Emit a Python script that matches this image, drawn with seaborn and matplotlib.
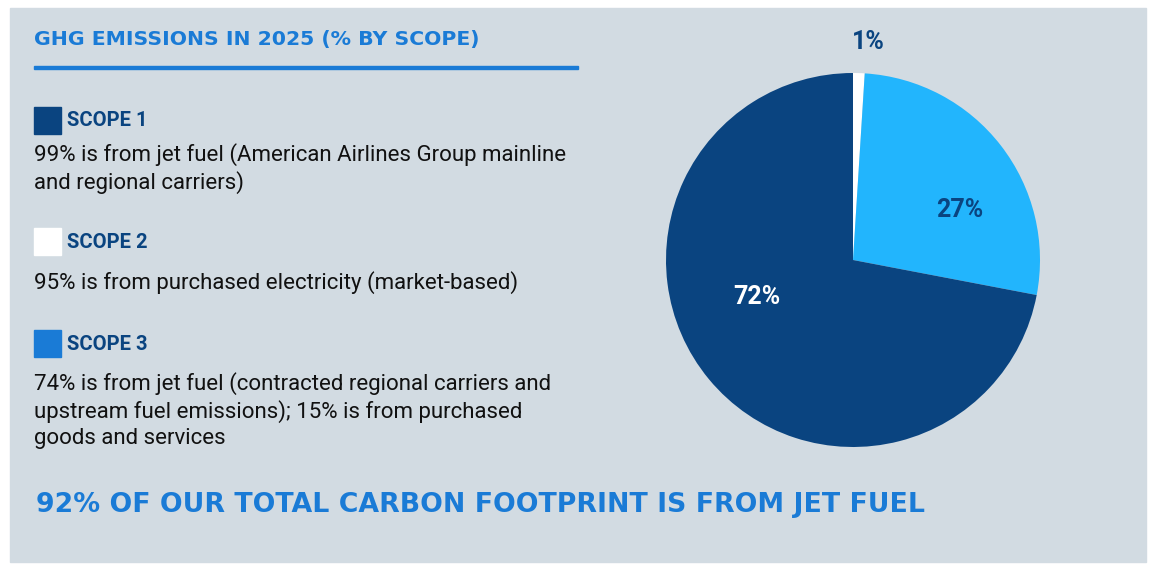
import matplotlib.pyplot as plt
import seaborn as sns
from matplotlib.patches import Rectangle

# --- data ---
scopes = ["Scope 2", "Scope 3", "Scope 1"]
shares = [1, 27, 72]
slice_colors = ["#ffffff", "#22b5fd", "#0a4480"]
slice_labels = ["1%", "27%", "72%"]

legend_titles = ["SCOPE 1", "SCOPE 2", "SCOPE 3"]
legend_colors = ["#0a4480", "#ffffff", "#1a7bd6"]
legend_texts = [
    "99% is from jet fuel (American Airlines Group mainline\nand regional carriers)",
    "95% is from purchased electricity (market-based)",
    "74% is from jet fuel (contracted regional carriers and\nupstream fuel emissions); 15% is from purchased\ngoods and services",
]

sns.set_style("white")
plt.rcParams["font.family"] = ["Roboto", "DejaVu Sans"]

W, H = 1156, 574
fig = plt.figure(figsize=(W / 100, H / 100), dpi=100)
fig.patch.set_facecolor("white")

def fx(x): return x / W
def fy(y): return 1 - y / H

# background panel
fig.patches.append(Rectangle((fx(10), fy(562)), (1146 - 10) / W, (562 - 8) / H,
                             transform=fig.transFigure, color="#d2dbe2", zorder=-5))

fig.text(fx(34), fy(40), "GHG EMISSIONS IN 2025 (% BY SCOPE)", fontsize=14.7, fontweight="bold",
         family="DejaVu Sans", color="#1a7bd6", va="center")
fig.patches.append(Rectangle((fx(34), fy(69)), 544 / W, 3 / H, transform=fig.transFigure,
                             color="#1a7bd6"))

title_y = [121, 242, 344]
text_y = [155, 283, 384]
for t, c, body, ty, by in zip(legend_titles, legend_colors, legend_texts, title_y, text_y):
    fig.patches.append(Rectangle((fx(34), fy(ty + 13)), 27 / W, 27 / H,
                                 transform=fig.transFigure, color=c))
    fig.text(fx(67), fy(ty), t, fontsize=14.5, fontweight="bold", color="#0a4480", va="center")
    fig.text(fx(34), fy(by - 12), body, fontsize=16, color="#111111", va="top", linespacing=1.3)

fig.text(fx(36), fy(505), "92% OF OUR TOTAL CARBON FOOTPRINT IS FROM JET FUEL",
         fontsize=19.3, fontweight="bold", family="DejaVu Sans", color="#1a7bd6", va="center")

# pie
r = 187
ax = fig.add_axes([fx(853 - r), fy(260 + r), 2 * r / W, 2 * r / H])
ax.set_facecolor("none")
ax.pie(shares, colors=slice_colors, startangle=90, counterclock=False,
       wedgeprops=dict(linewidth=0))
ax.set_xlim(-1, 1)
ax.set_ylim(-1, 1)
ax.set_aspect("equal")
ax.axis("off")
fig.text(fx(868), fy(42), slice_labels[0], fontsize=18, fontweight="bold", color="#0a4480",
         ha="center", va="center")
fig.text(fx(960), fy(210), slice_labels[1], fontsize=18, fontweight="bold", color="#0a4480",
         ha="center", va="center")
fig.text(fx(757), fy(297), slice_labels[2], fontsize=18, fontweight="bold", color="white",
         ha="center", va="center")

fig.savefig("out.png", dpi=100)
